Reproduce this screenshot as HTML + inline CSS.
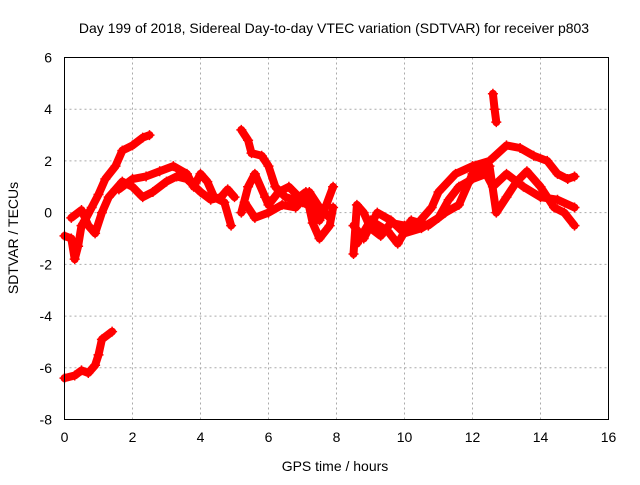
<!DOCTYPE html>
<html><head><meta charset="utf-8"><style>
body{margin:0;background:#fff}
svg text{font-family:"Liberation Sans",sans-serif;font-size:14px;fill:#000}
</style></head><body>
<svg id="c" width="640" height="480">
<text x="334" y="33" text-anchor="middle">Day 199 of 2018, Sidereal Day-to-day VTEC variation (SDTVAR) for receiver p803</text>
<text x="335" y="471" text-anchor="middle">GPS time / hours</text>
<text transform="translate(18,238) rotate(-90)" text-anchor="middle">SDTVAR / TECUs</text>
<g id="grid"></g><g id="series"></g>
<rect x="64.5" y="57.5" width="544" height="362" fill="none" stroke="#000"/>
</svg>
<script>
const xTicks=[0,2,4,6,8,10,12,14,16];
const yTicks=[-8,-6,-4,-2,0,2,4,6];
const trackA=[[0,-6.4],[0.3,-6.3],[0.5,-6.1],[0.7,-6.2],[0.9,-5.9],[1.0,-5.5],[1.1,-4.9],[1.4,-4.6]];
const trackB=[[0,-0.9],[0.2,-1.0],[0.3,-1.8],[0.4,-1.3],[0.5,-0.5],[0.6,-0.3],[0.8,0.2],[1.0,0.7],[1.2,1.3],[1.5,1.8],[1.7,2.4],[2.0,2.6],[2.3,2.9],[2.5,3.0]];
const trackC=[[0.2,-0.2],[0.5,0.1],[0.7,-0.5],[0.9,-0.8],[1.1,0],[1.3,0.6],[1.5,0.9],[1.7,1.2],[2.0,1.0],[2.3,0.6],[2.6,0.8],[3.0,1.2],[3.3,1.4],[3.6,1.3],[4.0,0.8],[4.3,0.5],[4.6,0.6],[4.8,0.9],[5.0,0.6]];
const trackD=[[1.6,0.9],[2.0,1.3],[2.4,1.4],[2.8,1.6],[3.2,1.8],[3.6,1.5],[3.8,1.0],[4.0,1.5],[4.2,1.2],[4.4,0.6],[4.7,0.4],[4.9,-0.5]];
const trackE=[[5.2,3.2],[5.4,2.8],[5.5,2.3],[5.8,2.2],[6.0,1.8],[6.2,1.0],[6.5,0.6],[7.0,0.4],[7.3,0.2],[7.5,-0.3],[7.7,0.3],[7.9,1.0]];
const trackF=[[5.2,0.0],[5.4,1.0],[5.6,1.5],[5.9,0.6],[6.0,0.3],[6.3,0.8],[6.6,1.0],[6.9,0.6],[7.1,0.8],[7.3,-0.4],[7.5,-1.0],[7.8,-0.5],[7.9,0.2]];
const trackG=[[5.3,0.4],[5.6,-0.2],[6.0,0.0],[6.4,0.3],[6.8,0.2],[7.2,0.8],[7.5,0.2],[7.8,-0.2]];
const trackH=[[8.5,-1.6],[8.6,0.3],[8.8,0.0],[9.0,-0.6],[9.3,-0.9],[9.6,-0.4],[10.0,-0.5],[10.4,-0.4],[10.8,0.2],[11.0,0.8],[11.5,1.5],[12.0,1.8],[12.5,2.0],[13.0,2.6],[13.4,2.5],[13.8,2.2],[14.2,2.0],[14.5,1.5],[14.8,1.3],[15.0,1.4]];
const trackI=[[8.5,-0.5],[8.8,-1.0],[9.2,0.0],[9.6,-0.3],[10.0,-0.8],[10.5,-0.6],[11.0,-0.2],[11.3,0.5],[11.6,1.0],[12.0,1.3],[12.4,1.5],[12.6,1.0],[13.0,1.5],[13.5,1.0],[14.0,0.6],[14.5,0.5],[15.0,0.2]];
const trackJ=[[8.6,-1.2],[9.0,-0.3],[9.5,-0.7],[9.8,-1.2],[10.2,-0.3],[10.7,-0.5],[11.2,0.0],[11.6,0.3],[12.0,1.5],[12.5,1.8],[12.7,0.0],[13.0,0.6],[13.3,1.2],[13.6,1.6],[14.0,1.0],[14.4,0.2],[14.7,0.0],[15.0,-0.5]];
const spike=[[12.6,4.6],[12.65,4.0],[12.7,3.5]];
const tracks=[trackA,trackB,trackC,trackD,trackE,trackF,trackG,trackH,trackI,trackJ,spike];
const NS="http://www.w3.org/2000/svg";
const X=v=>64.5+v*(544/16), Y=v=>419.5-(v+8)*(362/14);
const grid=document.getElementById('grid'), ser=document.getElementById('series');
function mk(t,a,p){const e=document.createElementNS(NS,t);for(const k in a)e.setAttribute(k,a[k]);p.appendChild(e);return e;}
xTicks.forEach(t=>{
 if(t>0&&t<16){const l=mk('line',{x1:X(t),x2:X(t),y1:57.5,y2:419.5,stroke:'#aaa','stroke-dasharray':'2,3'},grid);
 }
 const tx=mk('text',{x:X(t),y:442,'text-anchor':'middle'},grid);tx.textContent=t;
 
});
yTicks.forEach(t=>{
 if(t>-8&&t<6){const l=mk('line',{x1:64.5,x2:608.5,y1:Y(t),y2:Y(t),stroke:'#aaa','stroke-dasharray':'2,3'},grid);
 }
 const tx=mk('text',{x:52,y:Y(t)+5,'text-anchor':'end'},grid);tx.textContent=t;
 
});
tracks.forEach(tr=>{
 const pl=mk('polyline',{points:tr.map(p=>X(p[0])+','+Y(p[1])).join(' '),fill:'none',stroke:'#f00','stroke-width':8,'stroke-linejoin':'round','stroke-linecap':'round'},ser);
 
 tr.forEach(p=>{const x=X(p[0]),y=Y(p[1]);
  const m=mk('path',{d:`M${x-5},${y}H${x+5}M${x},${y-5}V${y+5}`,stroke:'#f00','stroke-width':1.5},ser);
  });
});
</script>
</body></html>
